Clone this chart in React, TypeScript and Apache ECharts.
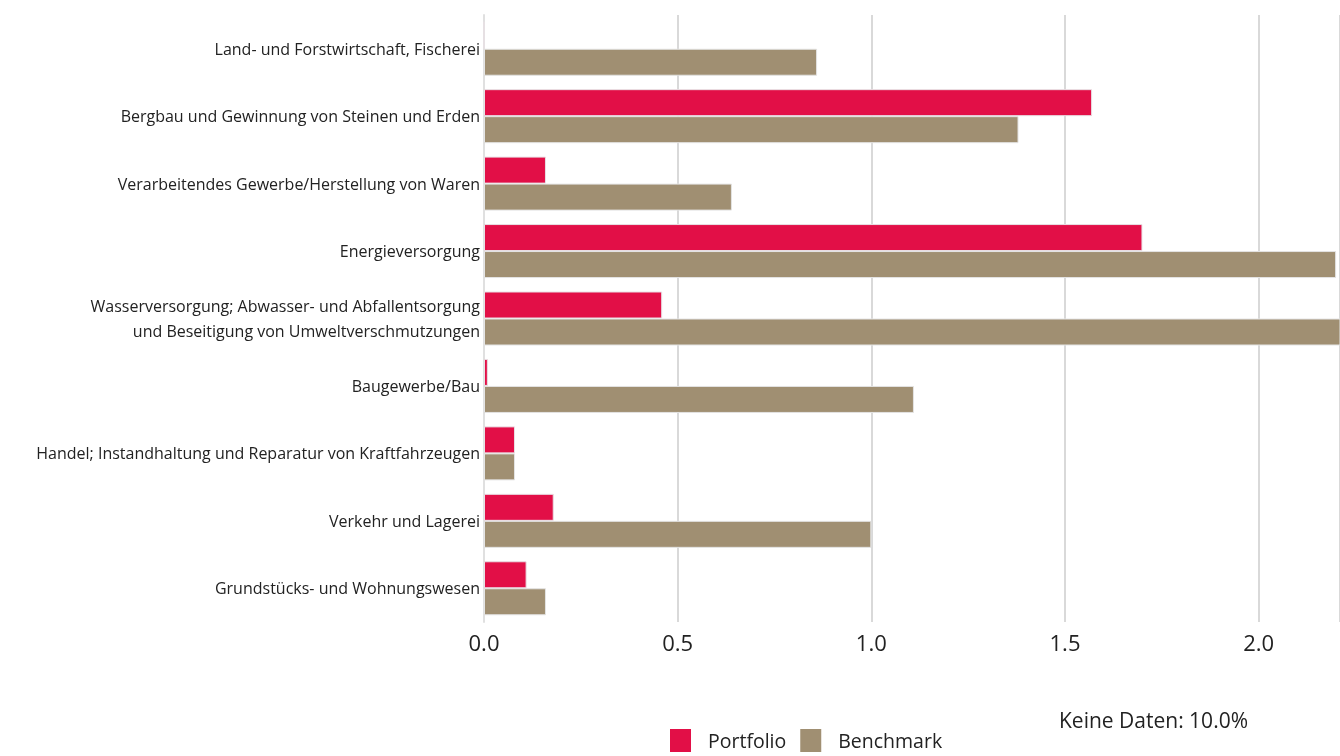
import React, { useEffect, useRef } from "react";
import * as echarts from "echarts";

const categories = [
  "Land- und Forstwirtschaft, Fischerei",
  "Bergbau und Gewinnung von Steinen und Erden",
  "Verarbeitendes Gewerbe/Herstellung von Waren",
  "Energieversorgung",
  "Wasserversorgung; Abwasser- und Abfallentsorgung\nund Beseitigung von Umweltverschmutzungen",
  "Baugewerbe/Bau",
  "Handel; Instandhaltung und Reparatur von Kraftfahrzeugen",
  "Verkehr und Lagerei",
  "Grundstücks- und Wohnungswesen",
];

const portfolio = [0, 1.57, 0.16, 1.7, 0.46, 0.01, 0.08, 0.18, 0.11];
const benchmark = [0.86, 1.38, 0.64, 2.2, 2.3, 1.11, 0.08, 1.0, 0.16];

const seriesNames = ["Portfolio", "Benchmark"];
const noDataText = "Keine Daten: 10.0%";

export default function App() {
  const ref = useRef<HTMLDivElement>(null);
  useEffect(() => {
    if (!ref.current) return;
    const chart = echarts.init(ref.current, undefined, { renderer: "svg" });
    chart.setOption({
      animation: false,
      grid: { left: 484, right: 0, top: 15, bottom: 134, containLabel: false },
      xAxis: {
        type: "value",
        min: 0,
        max: 2.21,
        interval: 0.5,
        axisLine: { show: false },
        axisTick: { show: false },
        splitLine: { lineStyle: { color: "#d9d9d9", width: 2 } },
        axisLabel: {
          showMaxLabel: false,
          margin: 9,
          color: "#222",
          fontSize: 22,
          fontFamily: "Liberation Sans Narrow, Open Sans, sans-serif",
          formatter: (v: number) => v.toFixed(1),
        },
      },
      yAxis: {
        type: "category",
        inverse: true,
        data: categories,
        axisLine: { show: true, lineStyle: { color: "#e0e0e0", width: 2 } },
        axisTick: { show: false },
        axisLabel: {
          margin: 4,
          color: "#222",
          fontSize: 16,
          lineHeight: 25,
          fontFamily: "Open Sans, sans-serif",
        },
      },
      legend: {
        left: 670,
        top: 729,
        padding: 0,
        itemWidth: 21,
        itemHeight: 23,
        itemGap: 14,
        icon: "rect",
        data: seriesNames,
        itemStyle: { borderWidth: 0 },
        textStyle: {
          color: "#222",
          fontSize: 19.5,
          fontFamily: "Open Sans, sans-serif",
          padding: [6, 0, 0, 12],
        },
      },
      graphic: [
        {
          type: "text",
          left: 1059,
          top: 709,
          style: {
            text: noDataText,
            fontSize: 21,
            fill: "#222",
            fontFamily: "Open Sans, sans-serif",
          },
        },
      ],
      series: [
        {
          name: seriesNames[0],
          type: "bar",
          data: portfolio,
          barWidth: 27,
          barGap: "0%",
          itemStyle: { color: "#e20f47", borderColor: "#e8e0e4", borderWidth: 1 },
        },
        {
          name: seriesNames[1],
          type: "bar",
          data: benchmark,
          barWidth: 27,
          barGap: "0%",
          itemStyle: { color: "#a08f72", borderColor: "#e4e4e4", borderWidth: 1 },
        },
      ],
    });
    return () => chart.dispose();
  }, []);
  return (
    <div
      ref={ref}
      style={{ position: "fixed", left: 0, top: 0, width: 1340, height: 756 }}
    />
  );
}
